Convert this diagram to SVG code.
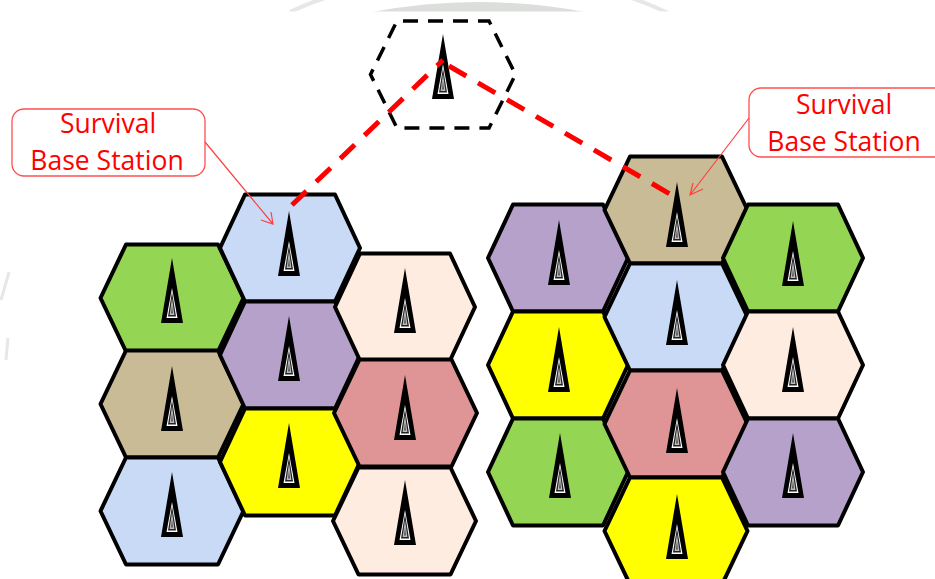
<svg xmlns="http://www.w3.org/2000/svg" width="935" height="579" viewBox="0 0 935 579">
<style>
.h{stroke:#000;stroke-width:4;stroke-linejoin:round}
.blue{fill:#c9daf6}.green{fill:#95d554}.tan{fill:#c8bb96}.purple{fill:#b6a1cb}.yellow{fill:#ffff00}.peach{fill:#ffece0}.pink{fill:#df9595}
.c{fill:#fff;stroke:#ff5050;stroke-width:1.3}
.t{font-family:"Open Sans","Noto Sans",sans-serif;font-size:26.500px;fill:#ff0000;text-anchor:middle}
.l{fill:none;stroke:#ff4040;stroke-width:1.200}
.d{fill:none;stroke:#ff0000;stroke-width:5;stroke-dasharray:20 13.500}
.g{fill:none;stroke:#e6e8e6}
</style>
<defs>
<clipPath id="band"><rect width="935" height="11.500"/></clipPath>
<path id="hex" d="M-71.500 0L-46 -53.500H46L71.500 0L46 53.500H-46Z"/>
<path id="hexn" d="M-70 0L-45 -53.500H45L70 0L45 53.500H-45Z"/>
<path id="hext" d="M-72.500 0L-46 -53.500H46L72.500 0L46 53.500H-46Z"/>
<g id="ant">
<path d="M0 -40L11 25H-11Z" fill="#000"/>
<path d="M0 -10L5.500 20H-5.500Z" fill="#fff"/>
<path d="M0 -6L4 18.500H-4Z" fill="#222"/>
<path d="M0 0L2.400 17H-2.400Z" fill="#bbb"/>
<path d="M0 7L1 15.500H-1Z" fill="#555"/>
</g>
</defs>
<rect width="935" height="579" fill="#fff"/>
<g id="background">
<g clip-path="url(#band)">
<path d="M372 12Q478 -8 585 12Z" fill="#dcdedc"/>
<path class="g" stroke-width="4" d="M290 12Q315 0 340 -6"/>
<path class="g" stroke-width="4" d="M620 -6Q645 2 668 13"/>
</g>
<path class="g" stroke-width="3" d="M9 272L1 300"/>
<path class="g" stroke-width="3" d="M8 338L6 360"/>
</g>
<g id="top"><use href="#hext" transform="translate(443 74.500)" fill="none" stroke="#000" stroke-width="3.500" stroke-dasharray="15 10" stroke-dashoffset="9.300"/><use href="#ant" transform="translate(443 74)"/></g>
<g id="l1"><use href="#hex" class="h green" x="172" y="298"/><use href="#ant" x="172" y="298"/></g>
<g id="l2"><use href="#hex" class="h tan" x="172" y="404"/><use href="#ant" x="172" y="406"/></g>
<g id="l3"><use href="#hex" class="h blue" x="172" y="511"/><use href="#ant" x="172" y="512"/></g>
<g id="l4"><use href="#hexn" class="h blue" x="290" y="248"/><use href="#ant" x="289" y="251"/></g>
<g id="l5"><use href="#hexn" class="h purple" x="290" y="355"/><use href="#ant" x="289" y="356"/></g>
<g id="l6"><use href="#hexn" class="h yellow" x="290" y="462"/><use href="#ant" x="289" y="463"/></g>
<g id="l7"><use href="#hexn" class="h peach" x="405" y="307"/><use href="#ant" x="405" y="308"/></g>
<g id="l8"><use href="#hex" class="h pink" x="405.500" y="413"/><use href="#ant" x="405" y="415"/></g>
<g id="l9"><use href="#hex" class="h peach" x="404.500" y="521"/><use href="#ant" x="405" y="520"/></g>
<g id="r1"><use href="#hexn" class="h purple" x="558" y="258"/><use href="#ant" x="559" y="260"/></g>
<g id="r2"><use href="#hexn" class="h yellow" x="558" y="365"/><use href="#ant" x="559" y="367"/></g>
<g id="r3"><use href="#hexn" class="h green" x="558" y="472"/><use href="#ant" x="560" y="473"/></g>
<g id="r4"><use href="#hex" class="h tan" x="676" y="210"/><use href="#ant" x="677" y="222"/></g>
<g id="r5"><use href="#hex" class="h blue" x="676" y="317"/><use href="#ant" x="677" y="320"/></g>
<g id="r6"><use href="#hex" class="h pink" x="676" y="424"/><use href="#ant" x="677" y="428"/></g>
<g id="r7"><use href="#hex" class="h yellow" x="676" y="531"/><use href="#ant" x="677" y="534"/></g>
<g id="r8"><use href="#hexn" class="h green" x="793" y="258"/><use href="#ant" x="793" y="261"/></g>
<g id="r9"><use href="#hexn" class="h peach" x="793" y="365"/><use href="#ant" x="793" y="367"/></g>
<g id="r10"><use href="#hexn" class="h purple" x="793" y="472"/><use href="#ant" x="793" y="473"/></g>
<g id="callout-left"><rect class="c" x="12" y="109" width="193" height="67" rx="12"/><text class="t" x="108" y="133">Survival</text><text class="t" x="107" y="170">Base Station</text></g>
<g id="callout-right"><rect class="c" x="749" y="88" width="200" height="69" rx="12"/><text class="t" x="844" y="114">Survival</text><text class="t" x="844" y="151">Base Station</text></g>
<g id="connectors">
<path class="d" d="M292 205L443 60"/>
<path class="d" d="M449 66L670 194"/>
<path class="l" d="M205 142L273 224M261 220L273 224L271 212"/>
<path class="l" d="M749 118L690 195M693 183L690 195L703 189"/>
</g>
</svg>
